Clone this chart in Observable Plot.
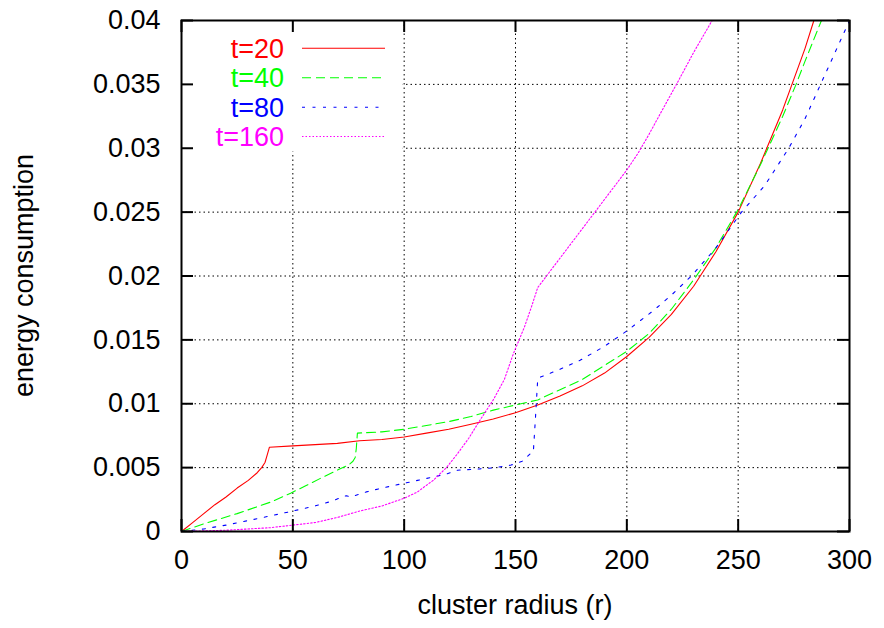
<!DOCTYPE html>
<html>
<head>
<meta charset="utf-8">
<script src="https://cdn.jsdelivr.net/npm/d3@7"></script>
<script src="https://cdn.jsdelivr.net/npm/@observablehq/plot@0.6"></script>
<style>
  html, body { margin: 0; padding: 0; background: #fff; }
  svg { display: block; }
</style>
</head>
<body>
<div id="chart"></div>
<script>
// ---- data ----
const xTicks = [0, 50, 100, 150, 200, 250, 300];
const xTickLabels = ["0", "50", "100", "150", "200", "250", "300"];
const yTicks = [0, 0.005, 0.01, 0.015, 0.02, 0.025, 0.03, 0.035, 0.04];
const yTickLabels = ["0", "0.005", "0.01", "0.015", "0.02", "0.025", "0.03", "0.035", "0.04"];

const seriesNames = ["t=20", "t=40", "t=80", "t=160"];
const seriesColors = ["#ff0000", "#00ff00", "#0000ff", "#ff00ff"];
const seriesDash = [null, "9,5", "3,7.5", "1.5,2"];

const t20x = [0, 5, 10, 15, 20, 25, 30, 34, 36, 37.5, 38.5, 39.5, 50, 60, 70, 80, 90, 100, 110, 120, 130, 140, 150, 160, 170, 180, 190, 200, 210, 220, 230, 240, 250, 260, 270, 280, 284];
const t20y = [0, 0.0007, 0.0014, 0.0021, 0.0027, 0.0034, 0.0040, 0.0046, 0.0050, 0.0054, 0.006, 0.0066, 0.0067, 0.0068, 0.0069, 0.0071, 0.0072, 0.0074, 0.0077, 0.0080, 0.0084, 0.0088, 0.0093, 0.0099, 0.0106, 0.0114, 0.0124, 0.0137, 0.0152, 0.0170, 0.0192, 0.0219, 0.025, 0.0288, 0.0330, 0.0378, 0.04];

const t40x = [0, 10, 25, 40, 49, 56, 64, 70, 75, 77, 78, 78.5, 79, 90, 100, 110, 120, 130, 140, 150, 160, 170, 180, 190, 200, 210, 220, 230, 240, 250, 260, 270, 276, 280, 287.4];
const t40y = [0, 0.0006, 0.0014, 0.0023, 0.003, 0.0036, 0.0043, 0.0048, 0.0052, 0.0055, 0.0058, 0.0065, 0.0077, 0.0078, 0.0080, 0.0083, 0.0086, 0.0090, 0.0095, 0.0099, 0.0103, 0.0111, 0.0119, 0.0130, 0.0141, 0.0155, 0.0174, 0.0197, 0.0222, 0.0252, 0.0287, 0.0325, 0.035, 0.0368, 0.04];

const t80x = [0, 10, 20, 34, 50, 60, 68, 72, 74, 76, 83, 90, 98, 106, 119, 124, 134, 141, 148, 153, 156.7, 158, 159, 160, 170, 179, 190, 200, 212, 220, 229, 240, 251.5, 262, 272.7, 280, 287, 293, 300];
const t80y = [0, 0.0002, 0.0005, 0.001, 0.0016, 0.002, 0.0024, 0.0027, 0.0028, 0.0027, 0.0031, 0.0034, 0.0037, 0.004, 0.0045, 0.0048, 0.0049, 0.005, 0.0052, 0.0055, 0.0061, 0.0062, 0.0090, 0.0120, 0.0127, 0.0134, 0.0145, 0.0157, 0.0173, 0.0185, 0.0200, 0.0222, 0.025, 0.0271, 0.030, 0.0323, 0.035, 0.0373, 0.04];

const t160x = [0, 20, 40, 50, 60, 70, 80, 90, 100, 106, 113, 119, 124, 129, 134, 140, 145, 149, 154, 157, 160, 170, 180, 190, 200, 205, 210, 215, 222.6, 230, 238.3];
const t160y = [0, 0.0001, 0.0003, 0.0005, 0.0007, 0.0011, 0.0016, 0.0020, 0.0026, 0.0031, 0.0040, 0.0050, 0.0061, 0.0073, 0.0087, 0.0103, 0.0119, 0.0139, 0.016, 0.0175, 0.0191, 0.0214, 0.0237, 0.0260, 0.0283, 0.0296, 0.0311, 0.0327, 0.0351, 0.0375, 0.04];

// opaque legend box (gnuplot key area), in data units
const legendBox = {x1: 0, x2: 99.6, y1: 0.0297, y2: 0.04};

const xs = [t20x, t40x, t80x, t160x];
const ys = [t20y, t40y, t80y, t160y];
const series = seriesNames.map((name, i) => xs[i].map((x, j) => ({name, x, y: ys[i][j]})));

const FONT = "'Liberation Sans', Arial, Helvetica, sans-serif";
const FS = 27;

const W = 884, H = 628, ML = 181, MR = 35, MT = 20, MB = 97;
const FW = W - ML - MR, FH = H - MT - MB; // frame size in px
const TL = 12; // tick length in px

const lineMarks = series.map((data, i) =>
  Plot.line(data, {x: "x", y: "y", stroke: seriesColors[i], strokeWidth: 1.1,
    strokeDasharray: seriesDash[i] || undefined, curve: "linear"}));

const tickStyle = {stroke: "#000", strokeWidth: 2, strokeOpacity: 1};

const plot = Plot.plot({
  width: W,
  height: H,
  marginLeft: ML,
  marginRight: MR,
  marginTop: MT,
  marginBottom: MB,
  style: {fontFamily: FONT, fontSize: FS + "px", background: "#fff", color: "#000"},
  x: {domain: [0, 300], label: null},
  y: {domain: [0, 0.04], label: null},
  marks: [
    Plot.gridX({ticks: xTicks, stroke: "#000", strokeOpacity: 1, strokeWidth: 1, strokeDasharray: "1.5,3"}),
    Plot.gridY({ticks: yTicks, stroke: "#000", strokeOpacity: 1, strokeWidth: 1, strokeDasharray: "1.5,3"}),
    Plot.rect([legendBox], {x1: "x1", x2: "x2", y1: "y1", y2: "y2", fill: "#fff"}),
    ...lineMarks,
    Plot.frame({stroke: "#000", strokeWidth: 2}),
    // inward, mirrored ticks (gnuplot style)
    Plot.tickX(xTicks, {x: d => d, insetTop: FH - TL, ...tickStyle}),
    Plot.tickX(xTicks, {x: d => d, insetBottom: FH - TL, ...tickStyle}),
    Plot.tickY(yTicks, {y: d => d, insetRight: FW - TL, ...tickStyle}),
    Plot.tickY(yTicks, {y: d => d, insetLeft: FW - TL, ...tickStyle}),
    // tick labels
    Plot.axisX({ticks: xTicks, anchor: "bottom", tickSize: 0, tickPadding: 18, fontSize: FS,
      tickFormat: d => xTickLabels[xTicks.indexOf(d)], label: null}),
    Plot.axisY({ticks: yTicks, anchor: "left", tickSize: 0, tickPadding: 21, fontSize: FS,
      tickFormat: d => yTickLabels[yTicks.indexOf(d)], label: null})
  ]
});

const svg = d3.select(plot);

// axis titles
svg.append("text")
  .attr("x", ML + FW / 2).attr("y", 614)
  .attr("text-anchor", "middle")
  .attr("font-family", FONT).attr("font-size", FS)
  .attr("fill", "#000")
  .text("cluster radius (r)");
svg.append("text")
  .attr("transform", `translate(33,${MT + FH / 2}) rotate(-90)`)
  .attr("text-anchor", "middle")
  .attr("font-family", FONT).attr("font-size", FS)
  .attr("fill", "#000")
  .text("energy consumption");

// legend (key)
const keyBaselines = [57.7, 87.3, 116.7, 146];
const key = svg.append("g");
seriesNames.forEach((name, i) => {
  key.append("text")
    .attr("x", 284).attr("y", keyBaselines[i])
    .attr("text-anchor", "end")
    .attr("font-family", FONT).attr("font-size", FS)
    .attr("fill", seriesColors[i])
    .text(name);
  key.append("line")
    .attr("x1", 302).attr("x2", 385)
    .attr("y1", keyBaselines[i] - 9.5).attr("y2", keyBaselines[i] - 9.5)
    .attr("stroke", seriesColors[i])
    .attr("stroke-width", 1.1)
    .attr("stroke-dasharray", seriesDash[i]);
});

document.getElementById("chart").appendChild(plot);
</script>
</body>
</html>
